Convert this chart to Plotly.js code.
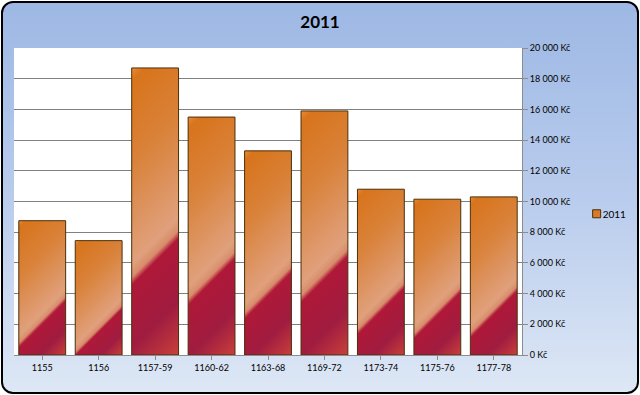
<!DOCTYPE html>
<html>
<head>
<meta charset="utf-8">
<script src="https://cdn.plot.ly/plotly-3.0.1.min.js"></script>
<style>
html,body{margin:0;padding:0;background:#fff;}
#wrap{position:relative;width:640px;height:395px;}
#bg{position:absolute;left:1px;top:1px;width:638px;height:393px;box-sizing:border-box;border:2.5px solid #000;border-radius:12px;background:linear-gradient(to bottom,#9db8e4 0%,#b9cced 50%,#dde7f5 100%);}
#chart{position:absolute;left:0;top:0;width:640px;height:395px;}
</style>
</head>
<body>
<div id="wrap"><div id="bg"></div><div id="chart"></div></div>
<script>
const categories = ["1155","1156","1157-59","1160-62","1163-68","1169-72","1173-74","1175-76","1177-78"];
const values2011 = [8750, 7450, 18700, 15500, 13300, 15900, 10800, 10150, 10300];
const seriesName = "2011";
const chartTitle = "2011";

const trace = {
  type: "bar",
  x: categories,
  y: values2011,
  name: seriesName,
  marker: {color: "#d9792a", line: {color: "#4a3008", width: 1}},
  showlegend: true,
  hoverinfo: "x+y"
};

const layout = {
  width: 640, height: 395,
  margin: {l: 14, r: 118, t: 48, b: 40, autoexpand: false},
  paper_bgcolor: "rgba(0,0,0,0)",
  plot_bgcolor: "#ffffff",
  separators: ", ",
  font: {family: "Lato, 'Open Sans', sans-serif", size: 9, color: "#000"},
  title: {text: "<b>" + chartTitle + "</b>", x: 0.5, xanchor: "center", y: 0.945, yanchor: "middle",
          font: {family: "Lato, 'Open Sans', sans-serif", size: 17, color: "#000"}},
  bargap: 0.17,
  xaxis: {
    type: "category",
    showgrid: false,
    showline: true, linecolor: "#8c8c8c", linewidth: 1,
    ticks: "outside", ticklen: 4, tickcolor: "#8c8c8c",
    tickfont: {size: 9},
    fixedrange: true
  },
  yaxis: {
    side: "right",
    range: [0, 20000],
    dtick: 2000,
    tickformat: ",d",
    ticksuffix: " Kč",
    showgrid: true, gridcolor: "#808080", gridwidth: 1,
    showline: true, linecolor: "#8c8c8c", linewidth: 1,
    ticks: "outside", ticklen: 5, tickcolor: "#8c8c8c",
    tickfont: {size: 9},
    zeroline: false,
    fixedrange: true
  },
  showlegend: true,
  legend: {x: 1.08, xanchor: "left", y: 0.46, yanchor: "middle", bgcolor: "rgba(0,0,0,0)",
           font: {size: 10}, itemwidth: 30}
};

function applyGradients(gd) {
  const svg = gd.querySelector("svg.main-svg");
  if (!svg) return;
  let defs = svg.querySelector("defs");
  const NS = "http://www.w3.org/2000/svg";
  const paths = gd.querySelectorAll(".barlayer .trace.bars .point path");
  paths.forEach(function(p, i) {
    const bb = p.getBBox();
    const id = "bargrad" + i;
    let g = defs.querySelector("#" + id);
    if (g) g.remove();
    g = document.createElementNS(NS, "linearGradient");
    g.setAttribute("id", id);
    g.setAttribute("gradientUnits", "userSpaceOnUse");
    const w = bb.width, h = bb.height;
    const s = (w + h) / 2;
    g.setAttribute("x1", bb.x); g.setAttribute("y1", bb.y);
    g.setAttribute("x2", bb.x + s); g.setAttribute("y2", bb.y + s);
    const tb = (w + 0.58 * h) / (w + h);
    const stops = [
      [0, "#ec8c38"], [0.04, "#d8741c"], [Math.max(0.1, tb * 0.45), "#d9823a"],
      [tb - 0.05, "#e0a07c"], [tb - 0.012, "#d88c6c"], [tb + 0.012, "#b01838"],
      [Math.min(0.99, tb + (1 - tb) * 0.55), "#a01c40"], [1, "#c8403a"]
    ];
    stops.forEach(function(st) {
      const e = document.createElementNS(NS, "stop");
      e.setAttribute("offset", Math.max(0, Math.min(1, st[0])));
      e.setAttribute("stop-color", st[1]);
      g.appendChild(e);
    });
    defs.appendChild(g);
    p.style.fill = "url(#" + id + ")";
  });
  gd.querySelectorAll(".legend .legendpoints").forEach(function(lp){
    lp.setAttribute("transform", "translate(14,0)");
    lp.querySelectorAll("path").forEach(function(p){
      p.setAttribute("d", "M4,4H-4V-4H4Z");
      p.style.fill = "#d9792a";
      p.style.stroke = "#4a3008";
      p.style.strokeWidth = "1px";
    });
  });
}

const gd = document.getElementById("chart");
Plotly.newPlot(gd, [trace], layout, {displayModeBar: false, staticPlot: true}).then(function() {
  applyGradients(gd);
  gd.on("plotly_afterplot", function(){ applyGradients(gd); });
});
</script>
</body>
</html>
